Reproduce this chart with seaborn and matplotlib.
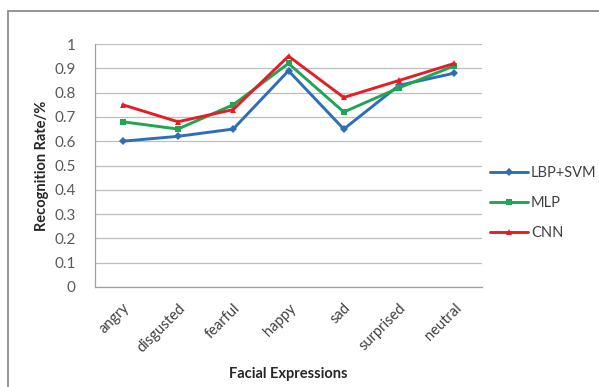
import matplotlib
matplotlib.use("Agg")
import matplotlib.pyplot as plt
import matplotlib.patches as mpatches
import seaborn as sns
import pandas as pd

# Recognition rate per facial expression for each method
expressions = ["angry", "disgusted", "fearful", "happy", "sad", "surprised", "neutral"]
lbp_svm = [0.60, 0.62, 0.65, 0.89, 0.65, 0.83, 0.88]
mlp = [0.68, 0.65, 0.75, 0.92, 0.72, 0.82, 0.91]
cnn = [0.75, 0.68, 0.73, 0.95, 0.78, 0.85, 0.92]
methods = ["LBP+SVM", "MLP", "CNN"]
y_ticks = [0, 0.1, 0.2, 0.3, 0.4, 0.5, 0.6, 0.7, 0.8, 0.9, 1]

rows = []
for name, vals in zip(methods, [lbp_svm, mlp, cnn]):
    for i, (expr, v) in enumerate(zip(expressions, vals)):
        rows.append({"pos": i, "Expression": expr, "Method": name, "Rate": v})
df = pd.DataFrame(rows)

sns.set_theme(style="white")
plt.rcParams["font.family"] = ["Lato", "DejaVu Sans"]

palette = {"LBP+SVM": "#2E6DB8", "MLP": "#1FA553", "CNN": "#E51E26"}
markers = {"LBP+SVM": "D", "MLP": "s", "CNN": "^"}

fig = plt.figure(figsize=(5.99, 3.87), dpi=100)
ax = fig.add_axes([95 / 599, 1 - 287 / 387, 387 / 599, 243 / 387])

# Outer chart frame
fig.patches.append(mpatches.Rectangle((8 / 599, -0.05), 1.1, 1 - 11 / 387 + 0.05,
                                      transform=fig.transFigure, fill=False,
                                      edgecolor="#8c8c8c", linewidth=1.3))

sns.lineplot(data=df, x="pos", y="Rate", hue="Method", style="Method",
             hue_order=methods, palette=palette, markers=markers, dashes=False,
             linewidth=2.1, markersize=4.5, markeredgewidth=0, ax=ax)

ax.set_xlim(-0.5, 6.5)
ax.set_ylim(0, 1)
ax.set_yticks(y_ticks)
ax.set_yticklabels([f"{t:g}" for t in y_ticks], color="#595959", fontsize=11)
ax.set_xticks(range(len(expressions)))
ax.set_xticklabels(expressions, rotation=45, ha="right", rotation_mode="anchor",
                   color="#404040", fontsize=10.5)
ax.set_xticks([i - 0.5 for i in range(len(expressions) + 1)], minor=True)
ax.tick_params(axis="x", which="major", length=0, pad=10)
ax.tick_params(axis="x", which="minor", length=5, direction="inout", color="#a0a0a0", width=0.8)
ax.tick_params(axis="y", which="major", length=6, direction="out", color="#a0a0a0", width=0.8, pad=8)

ax.yaxis.grid(True, color="#bfbfbf", linewidth=0.9)
ax.set_axisbelow(True)
for side in ["top", "right"]:
    ax.spines[side].set_visible(False)
for side in ["left", "bottom"]:
    ax.spines[side].set_color("#a0a0a0")
    ax.spines[side].set_linewidth(0.9)

ax.set_xlabel("Facial Expressions", fontsize=10.5, fontweight="bold", color="#262626", labelpad=9)
ax.set_ylabel("Recognition Rate/%", fontsize=10.5, fontweight="bold", color="#262626", labelpad=4)

handles, labels = ax.get_legend_handles_labels()
ax.legend(handles, labels, loc="center left", bbox_to_anchor=(490 / 599, 1 - 203 / 387),
          bbox_transform=fig.transFigure, frameon=False, fontsize=10.5,
          handlelength=2.6, handletextpad=0.2, labelspacing=1.1, labelcolor="#404040",
          borderaxespad=0, borderpad=0)

fig.savefig("out.png", dpi=100, facecolor="white")
